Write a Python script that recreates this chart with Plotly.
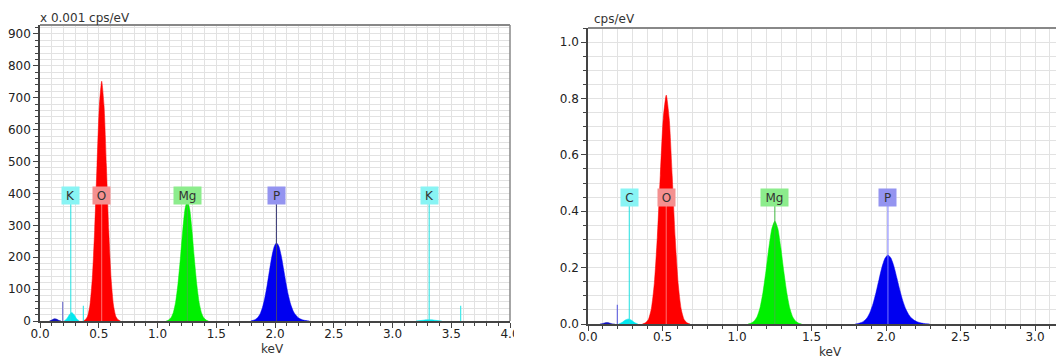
import plotly.graph_objects as go

# ---------------- data ----------------
# peak energy grids (keV)
o_kev = [0.365, 0.385, 0.405, 0.425, 0.445, 0.465, 0.485, 0.505, 0.525, 0.545,
         0.565, 0.585, 0.605, 0.625, 0.645, 0.665, 0.685]
mg_kev = [1.074, 1.094, 1.114, 1.134, 1.154, 1.174, 1.194, 1.214, 1.234, 1.254,
          1.274, 1.294, 1.314, 1.334, 1.354, 1.374, 1.394, 1.414, 1.434]
p_kev = [1.793, 1.813, 1.833, 1.853, 1.873, 1.893, 1.913, 1.933, 1.953, 1.973,
         1.993, 2.013, 2.033, 2.053, 2.073, 2.093, 2.113, 2.133, 2.153, 2.173,
         2.193, 2.213, 2.233, 2.253, 2.273, 2.293]
low_kev = [0.08, 0.10, 0.12, 0.13, 0.14, 0.16, 0.18]
low2_kev = [0.205, 0.23, 0.25, 0.27, 0.29, 0.31, 0.335]
k_kev = [3.20, 3.25, 3.29, 3.31, 3.33, 3.37, 3.42]

# left spectrum (x 0.001 cps/eV)
o_left = [0, 4, 15, 50, 133, 284, 488, 675, 752, 675, 488, 284, 133, 50, 15, 4, 0]
mg_left = [0, 3, 10, 26, 59, 116, 194, 281, 351, 378, 351, 281, 194, 116, 59, 26, 10, 3, 0]
p_left = [0, 2, 5, 11, 22, 42, 72, 112, 158, 202, 233, 245, 234, 205, 163, 120,
          82, 53, 33, 20, 12, 7, 4, 2, 1, 0]
low_left = [0, 3, 7, 7, 6, 2, 0]
low2_left = [0, 8, 20, 27, 20, 8, 0]
k_left = [0, 2, 4, 4, 4, 2, 0]
spikes_left_kev = [0.193, 0.369, 3.58]
spikes_left_val = [60, 48, 48]

# right spectrum (cps/eV)
o_right = [0, 0.004, 0.016, 0.054, 0.144, 0.307, 0.527, 0.729, 0.812, 0.729,
           0.527, 0.307, 0.144, 0.054, 0.016, 0.004, 0]
mg_right = [0, 0.003, 0.010, 0.025, 0.057, 0.112, 0.187, 0.271, 0.339, 0.365,
            0.339, 0.271, 0.187, 0.112, 0.057, 0.025, 0.010, 0.003, 0]
p_right = [0, 0.002, 0.005, 0.011, 0.022, 0.042, 0.072, 0.112, 0.158, 0.202,
           0.233, 0.245, 0.234, 0.205, 0.163, 0.120, 0.082, 0.053, 0.033, 0.020,
           0.012, 0.007, 0.004, 0.002, 0.001, 0]
low_right = [0, 0.002, 0.005, 0.005, 0.004, 0.001, 0]
low2_right = [0, 0.006, 0.014, 0.018, 0.014, 0.006, 0]
spikes_right_kev = [0.197]
spikes_right_val = [0.068]

# element markers
labels_left = ["K", "O", "Mg", "P", "K"]
labels_left_kev = [0.262, 0.525, 1.254, 2.013, 3.312]
labels_right = ["C", "O", "Mg", "P"]
labels_right_kev = [0.277, 0.525, 1.254, 2.013]

x_ticks = [0.0, 0.5, 1.0, 1.5, 2.0, 2.5, 3.0, 3.5, 4.0]
y_ticks_left = [0, 100, 200, 300, 400, 500, 600, 700, 800, 900]
y_ticks_right = [0.0, 0.2, 0.4, 0.6, 0.8, 1.0]

# ---------------- styling ----------------
# the page body has an 8px default margin, so the figure is drawn 8px in from the
# window corner; layout positions below are window pixels converted accordingly
OFF = 8
W, H = 1064 - OFF, 356 - OFF


def px(x):
    return (x - OFF) / W


def py(y):
    return 1 - (y - OFF) / H


FONT = "DejaVu Sans"
box_fill = {"K": "#88f4f4", "C": "#88f4f4", "O": "#f49090", "Mg": "#8cec8c", "P": "#9494f0"}
line_col_left = {"K": "#20e0e0", "O": "#ff7070", "Mg": "#3fb83f", "P": "#40407a"}
line_col_right = {"C": "#20e0e0", "O": "#ff7070", "Mg": "#3fb83f", "P": "#7a7aff"}

fig = go.Figure()


def area(x, y, color, xa, ya):
    fig.add_trace(go.Scatter(x=x, y=y, mode="lines", fill="tozeroy", fillcolor=color,
                             line=dict(color=color, width=0.5, shape="spline", smoothing=0.6),
                             xaxis=xa, yaxis=ya, showlegend=False, hoverinfo="skip"))


def vline(x, y0, y1, color, xa, ya, width=1.2):
    fig.add_trace(go.Scatter(x=[x, x], y=[y0, y1], mode="lines",
                             line=dict(color=color, width=width),
                             xaxis=xa, yaxis=ya, showlegend=False, hoverinfo="skip"))


# left panel
area(low_kev, low_left, "#1010c0", "x", "y")
area(low2_kev, low2_left, "#00e8f0", "x", "y")
area(o_kev, o_left, "#ff0000", "x", "y")
area(mg_kev, mg_left, "#00f000", "x", "y")
area(p_kev, p_left, "#0000f0", "x", "y")
area(k_kev, k_left, "#00e8f0", "x", "y")
vline(spikes_left_kev[0], 0, spikes_left_val[0], "#7878d0", "x", "y")
vline(spikes_left_kev[1], 0, spikes_left_val[1], "#40e8e8", "x", "y")
vline(spikes_left_kev[2], 0, spikes_left_val[2], "#40e8e8", "x", "y")

label_y_left = 392
line_top_left = 370
for lab, kev in zip(labels_left, labels_left_kev):
    vline(kev, 0, line_top_left, line_col_left[lab], "x", "y", 1.0)

# right panel
area(low_kev, low_right, "#1010c0", "x2", "y2")
area(low2_kev, low2_right, "#00e8f0", "x2", "y2")
area(o_kev, o_right, "#ff0000", "x2", "y2")
area(mg_kev, mg_right, "#00f000", "x2", "y2")
area(p_kev, p_right, "#0000f0", "x2", "y2")
vline(spikes_right_kev[0], 0, spikes_right_val[0], "#6a6ae0", "x2", "y2")

label_y_right = 0.447
line_top_right = 0.422
for lab, kev in zip(labels_right, labels_right_kev):
    vline(kev, 0, line_top_right, line_col_right[lab], "x2", "y2", 1.0)

annotations = []
for labs, kevs, ly, xa, ya in [(labels_left, labels_left_kev, label_y_left, "x", "y"),
                               (labels_right, labels_right_kev, label_y_right, "x2", "y2")]:
    for lab, kev in zip(labs, kevs):
        annotations.append(dict(x=kev, y=ly, xref=xa, yref=ya, text=lab, showarrow=False,
                                bgcolor=box_fill[lab], width=15 if len(lab) == 1 else 25,
                                height=15, borderpad=1,
                                font=dict(family=FONT, size=12, color="#333333"),
                                xanchor="center", yanchor="middle"))

# axis units / titles
annotations += [
    dict(x=px(38), y=py(18), xref="paper", yref="paper", text="x 0.001 cps/eV",
         showarrow=False, xanchor="left", yanchor="middle",
         font=dict(family=FONT, size=12, color="#333333")),
    dict(x=px(592), y=py(19), xref="paper", yref="paper", text="cps/eV",
         showarrow=False, xanchor="left", yanchor="middle",
         font=dict(family=FONT, size=12, color="#333333")),
    dict(x=px(272), y=py(349), xref="paper", yref="paper", text="keV",
         showarrow=False, xanchor="center", yanchor="middle",
         font=dict(family=FONT, size=12, color="#333333")),
    dict(x=px(830), y=py(352), xref="paper", yref="paper", text="keV",
         showarrow=False, xanchor="center", yanchor="middle",
         font=dict(family=FONT, size=12, color="#333333")),
]

grid_col = "#e2e2e2"
axis_common = dict(showline=True, linecolor="#444444", linewidth=1.5, ticks="outside",
                   tickcolor="#444444", ticklen=5, tickwidth=1, automargin=False,
                   tickfont=dict(family=FONT, size=12, color="#222222"),
                   showgrid=True, gridcolor=grid_col, gridwidth=1, zeroline=False)

fig.update_layout(
    width=W, height=H, margin=dict(l=0, r=0, t=0, b=0, autoexpand=False),
    paper_bgcolor="white", plot_bgcolor="white", showlegend=False,
    annotations=annotations,
    xaxis=dict(domain=[px(40), px(510)], range=[0, 4.0], tickvals=x_ticks,
               tickformat=".1f", anchor="y", ticklabelstandoff=-4,
               minor=dict(dtick=0.1, ticklen=3, tickcolor="#444444", showgrid=True,
                          gridcolor=grid_col),
               **axis_common),
    yaxis=dict(domain=[py(321), py(25)], range=[0, 928], tickvals=y_ticks_left,
               anchor="x",
               minor=dict(dtick=20, ticklen=3, tickcolor="#444444", showgrid=True,
                          gridcolor=grid_col),
               **axis_common),
    xaxis2=dict(domain=[px(588), 1.0], range=[0, (1064 - 588) / 149], tickvals=x_ticks,
                tickformat=".1f", anchor="y2", ticklabelstandoff=-4,
                minor=dict(dtick=0.1, ticklen=3, tickcolor="#444444", showgrid=True,
                           gridcolor=grid_col),
                **axis_common),
    yaxis2=dict(domain=[py(324), py(28)], range=[0, 1.05], tickvals=y_ticks_right,
                tickformat=".1f", anchor="x2",
                minor=dict(dtick=0.05, ticklen=3, tickcolor="#444444", showgrid=True,
                           gridcolor=grid_col),
                **axis_common),
    shapes=[
        dict(type="line", xref="x domain", yref="y domain", x0=0, x1=1, y0=1, y1=1,
             line=dict(color="#888888", width=2)),
        dict(type="line", xref="x domain", yref="y domain", x0=1, x1=1, y0=0, y1=1,
             line=dict(color="#888888", width=1.5)),
        dict(type="line", xref="x2 domain", yref="y2 domain", x0=0, x1=1, y0=1, y1=1,
             line=dict(color="#888888", width=2)),
        dict(type="rect", xref="paper", yref="paper", x0=px(514), x1=px(545), y0=0, y1=1,
             fillcolor="white", line=dict(width=0), layer="above"),
    ],
)

fig.write_html("out.html")
